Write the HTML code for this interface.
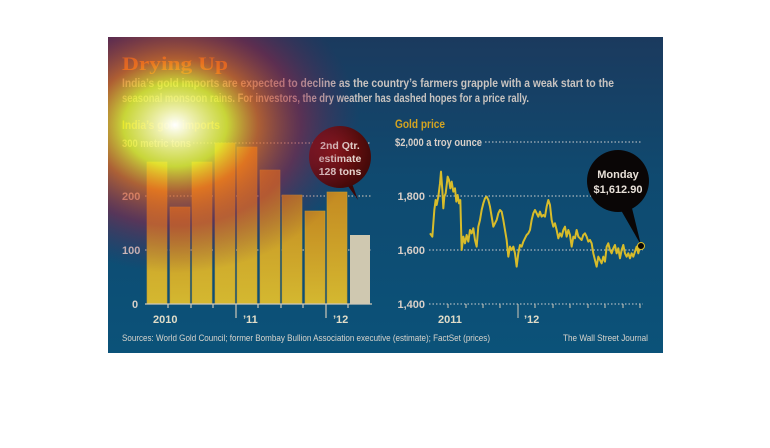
<!DOCTYPE html>
<html><head><style>
html,body{margin:0;padding:0;background:#fff;width:770px;height:448px;overflow:hidden}
svg{display:block}
text{font-family:"Liberation Sans",sans-serif;font-weight:bold}
</style></head><body>
<svg width="770" height="448" viewBox="0 0 770 448" xmlns="http://www.w3.org/2000/svg">
<defs>
<linearGradient id="bg" x1="0" y1="0" x2="0" y2="1">
<stop offset="0" stop-color="#1b3a5e"/><stop offset="0.45" stop-color="#0f4a70"/><stop offset="1" stop-color="#0b5279"/>
</linearGradient>
<linearGradient id="bar" x1="0" y1="0" x2="0" y2="1">
<stop offset="0" stop-color="#c48a22"/><stop offset="1" stop-color="#d4b830"/>
</linearGradient>
<radialGradient id="glow" cx="175" cy="125" r="185" gradientUnits="userSpaceOnUse" gradientTransform="translate(175 125) scale(1 0.8) translate(-175 -125)">
<stop offset="0" stop-color="#ffffff" stop-opacity="1"/>
<stop offset="0.1" stop-color="#f8f8b0" stop-opacity="0.95"/>
<stop offset="0.28" stop-color="#e8ef30" stop-opacity="0.85"/>
<stop offset="0.45" stop-color="#e86a20" stop-opacity="0.72"/>
<stop offset="0.68" stop-color="#a02040" stop-opacity="0.5"/>
<stop offset="1" stop-color="#602050" stop-opacity="0"/>
</radialGradient>
<radialGradient id="bub1" cx="0.4" cy="0.4" r="0.7">
<stop offset="0" stop-color="#8a1414"/><stop offset="1" stop-color="#3a0808"/>
</radialGradient>
</defs>
<rect x="108" y="37" width="555" height="316" fill="url(#bg)"/>

<text x="122" y="70" style="font-family:'Liberation Serif',serif" font-size="19" fill="#e87a1e" textLength="106" lengthAdjust="spacingAndGlyphs">Drying Up</text>
<text x="122" y="87" font-size="12" fill="#c9c4c0" textLength="492" lengthAdjust="spacingAndGlyphs">India’s gold imports are expected to decline as the country’s farmers grapple with a weak start to the</text>
<text x="122" y="102" font-size="12" fill="#c9c4c0" textLength="407" lengthAdjust="spacingAndGlyphs">seasonal monsoon rains. For investors, the dry weather has dashed hopes for a price rally.</text>

<!-- left chart -->
<text x="122" y="129" font-size="11.5" fill="#f0c81e" textLength="98" lengthAdjust="spacingAndGlyphs">India’s gold imports</text>
<g stroke="#e0d0c0" stroke-width="1" stroke-dasharray="1.5,2">
<line x1="193" y1="143" x2="370" y2="143"/>
<line x1="145" y1="196" x2="372" y2="196"/>
<line x1="145" y1="250" x2="372" y2="250"/>
</g>
<g font-size="11" fill="#d8cfc8">
<text x="122" y="147" textLength="69" lengthAdjust="spacingAndGlyphs">300 metric tons</text>
<text x="122" y="200">200</text>
<text x="122" y="254">100</text>
<text x="132" y="308">0</text>
</g>
<g fill="url(#bar)" stroke="#c8a030" stroke-width="0.6">
<rect x="147" y="162" width="20" height="142"/>
<rect x="170" y="207" width="20" height="97"/>
<rect x="192" y="162" width="20" height="142"/>
<rect x="215" y="143" width="20" height="161"/>
<rect x="237" y="147" width="20" height="157"/>
<rect x="260" y="170" width="20" height="134"/>
<rect x="282" y="195" width="20" height="109"/>
<rect x="305" y="211" width="20" height="93"/>
<rect x="327" y="192" width="20" height="112"/>
</g>
<rect x="350" y="235" width="20" height="69" fill="#cfc8b0"/>
<g stroke="#cfc8b8" stroke-width="1.2">
<line x1="145" y1="304" x2="372" y2="304"/>
<line x1="168" y1="304" x2="168" y2="308"/>
<line x1="191" y1="304" x2="191" y2="308"/>
<line x1="213" y1="304" x2="213" y2="308"/>
<line x1="236" y1="304" x2="236" y2="318"/>
<line x1="258" y1="304" x2="258" y2="308"/>
<line x1="281" y1="304" x2="281" y2="308"/>
<line x1="303" y1="304" x2="303" y2="308"/>
<line x1="326" y1="304" x2="326" y2="318"/>
<line x1="348" y1="304" x2="348" y2="308"/>
</g>
<g font-size="11" fill="#e0dcc8">
<text x="153" y="323">2010</text>
<text x="243" y="323">’11</text>
<text x="333" y="323">’12</text>
</g>
<path d="M350 178 L358 200 L345 182 Z" fill="#3a0808"/>
<circle cx="340" cy="157" r="31" fill="url(#bub1)"/>
<g font-size="10.5" fill="#e8d8d0" text-anchor="middle">
<text x="340" y="149">2nd Qtr.</text>
<text x="340" y="162">estimate</text>
<text x="340" y="175">128 tons</text>
</g>

<!-- right chart -->
<text x="395" y="128" font-size="11.5" fill="#d4a421" textLength="50" lengthAdjust="spacingAndGlyphs">Gold price</text>
<g stroke="#d0d0d0" stroke-width="1" stroke-dasharray="1.5,2">
<line x1="485" y1="142" x2="642" y2="142"/>
<line x1="429" y1="196" x2="643" y2="196"/>
<line x1="429" y1="250" x2="643" y2="250"/>
<line x1="429" y1="304" x2="643" y2="304"/>
</g>
<g font-size="11" fill="#d8cfc8">
<text x="395" y="146" textLength="87" lengthAdjust="spacingAndGlyphs">$2,000 a troy ounce</text>
<text x="425" y="200" text-anchor="end">1,800</text>
<text x="425" y="254" text-anchor="end">1,600</text>
<text x="425" y="308" text-anchor="end">1,400</text>
</g>
<g stroke="#cfc8b8" stroke-width="1">
<line x1="448" y1="304" x2="448" y2="308"/><line x1="466" y1="304" x2="466" y2="308"/>
<line x1="483" y1="304" x2="483" y2="308"/><line x1="500" y1="304" x2="500" y2="308"/>
<line x1="518" y1="304" x2="518" y2="318"/><line x1="535" y1="304" x2="535" y2="308"/>
<line x1="553" y1="304" x2="553" y2="308"/><line x1="570" y1="304" x2="570" y2="308"/>
<line x1="588" y1="304" x2="588" y2="308"/><line x1="605" y1="304" x2="605" y2="308"/>
<line x1="623" y1="304" x2="623" y2="308"/><line x1="640" y1="304" x2="640" y2="308"/>
</g>
<g font-size="11" fill="#e0dcc8">
<text x="438" y="323">2011</text>
<text x="524" y="323">’12</text>
</g>
<g transform="translate(385 110) scale(0.3333)">
<polyline fill="none" stroke="#d8bc2a" stroke-width="6" stroke-linejoin="round" points="135,370 142,380 148,300 152,270 155,285 160,260 165,220 168,185 172,240 175,295 178,260 182,250 188,200 192,210 196,235 200,215 205,245 210,235 214,275 218,255 222,280 226,270 230,420 235,380 240,400 245,375 250,395 255,360 260,370 265,355 270,390 275,410 280,350 285,330 290,300 295,280 300,265 305,260 310,270 315,290 320,320 325,350 330,340 335,330 340,310 345,300 350,305 355,330 360,360 365,390 370,440 375,410 380,420 385,410 390,430 395,470 400,430 405,405 410,410 415,395 420,385 425,375 430,370 435,360 440,330 445,310 450,300 455,310 460,320 465,305 470,320 475,315 480,320 485,290 490,270 495,285 500,330 505,350 510,340 515,360 520,385 525,370 530,380 535,360 540,350 545,380 550,360 555,375 560,410 565,380 570,385 575,360 580,380 585,385 590,390 595,375 600,370 605,380 610,395 615,390 620,400 625,430 630,450 635,470 640,440 645,450 650,460 655,440 660,455 665,410 670,400 675,420 680,430 685,415 690,405 695,430 700,415 705,445 710,420 715,405 720,430 725,440 730,430 735,445 740,430 745,440 750,425 755,410 760,430 765,410 770,408"/>
</g>
<path d="M630 200 L641 245 L618 205 Z" fill="#0a0606"/>
<circle cx="641" cy="246" r="3.5" fill="#0a0606" stroke="#d8bc2a" stroke-width="1"/>
<circle cx="618" cy="181" r="31" fill="#0a0606"/>
<g font-size="11" fill="#e8e0d8" text-anchor="middle">
<text x="618" y="178">Monday</text>
<text x="618" y="193">$1,612.90</text>
</g>

<g font-size="9.5" fill="#d8d4cc">
<text x="122" y="341" style="font-weight:normal" textLength="368" lengthAdjust="spacingAndGlyphs">Sources: World Gold Council; former Bombay Bullion Association executive (estimate); FactSet (prices)</text>
<text x="563" y="341" style="font-weight:normal" textLength="85" lengthAdjust="spacingAndGlyphs">The Wall Street Journal</text>
</g>

<!-- glow overlay -->
<rect x="108" y="37" width="290" height="290" fill="url(#glow)"/>
</svg>
</body></html>
